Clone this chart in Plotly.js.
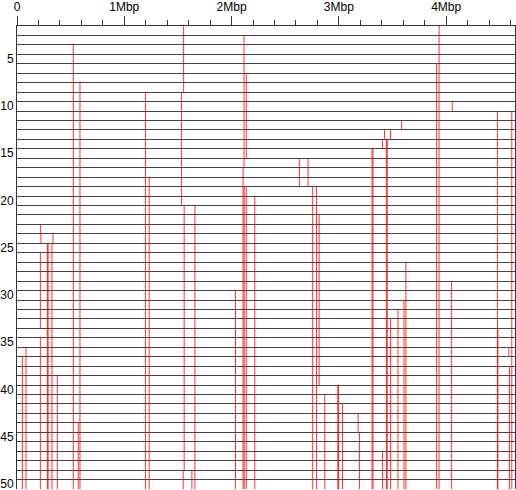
<!DOCTYPE html>
<html>
<head>
<meta charset="utf-8">
<script src="https://cdn.plot.ly/plotly-3.0.1.min.js"></script>
<style>
  html, body { margin: 0; padding: 0; background: #fff; }
  #chart { width: 516px; height: 490px; }
</style>
</head>
<body>
<div id="chart"></div>
<script>
// genome length (Mbp) and number of rows
const genomeLen = 4.6417;
const rowCount = 50;

// red segments: position (Mbp), first row, last row
const segPos = [
  0.050, 0.084, 0.218, 0.223, 0.335, 0.283, 0.290, 0.326, 0.218, 0.218,
  0.376, 0.525, 0.571, 0.587, 1.198, 1.232, 1.553, 1.534, 1.558, 1.549,
  1.630, 1.658, 2.036, 2.116, 2.137, 2.107, 2.118, 2.137, 2.216, 2.632,
  2.713, 2.756, 2.791, 2.816, 2.869, 2.990, 2.997, 3.034, 3.180, 3.192,
  3.309, 3.318, 3.407, 3.426, 3.482, 3.443, 3.451, 3.407, 3.482, 3.551,
  3.585, 3.607, 3.625, 3.911, 3.934, 4.051, 4.057, 4.478, 4.482, 4.584,
  4.590, 4.612
];
const segFrom = [
  36, 35, 22, 23, 23, 24, 24, 24, 25, 34,
  38, 3, 43, 7, 8, 17, 1, 8, 20, 48,
  48, 20, 29, 2, 6, 16, 18, 18, 19, 15,
  15, 18, 18, 21, 40, 39, 39, 41, 42, 44,
  14, 14, 13, 12, 12, 13, 13, 46, 32, 31,
  11, 30, 26, 5, 1, 28, 9, 10, 33, 35,
  37, 10
];
const segTo = [
  50, 50, 23, 24, 24, 50, 50, 50, 33, 50,
  50, 50, 50, 50, 50, 50, 8, 20, 48, 50,
  50, 50, 50, 16, 15, 50, 50, 50, 50, 18,
  18, 50, 50, 39, 50, 50, 50, 50, 44, 50,
  50, 50, 14, 13, 13, 50, 50, 50, 50, 50,
  12, 50, 50, 50, 50, 50, 10, 50, 50, 36,
  50, 50
];

// axis ticks
const xTickVals = [0, 1, 2, 3, 4];
const xTickText = ['0', '1Mbp', '2Mbp', '3Mbp', '4Mbp'];
const yTickVals = [5, 10, 15, 20, 25, 30, 35, 40, 45, 50];

const xs = [];
const ys = [];
segPos.forEach((p, i) => {
  xs.push(p, p, null);
  ys.push(segFrom[i], segTo[i], null);
});

Plotly.newPlot('chart', [{
  type: 'scatter',
  mode: 'lines',
  x: xs,
  y: ys,
  line: { color: 'rgba(255,0,0,0.8)', width: 1 },
  hoverinfo: 'skip',
  showlegend: false
}], {
  width: 516,
  height: 490,
  paper_bgcolor: '#fff',
  plot_bgcolor: '#fff',
  margin: { l: 17.4, r: 1.3, t: 26, b: 0.7 },
  font: { family: 'Liberation Sans, Arial, sans-serif', size: 12, color: '#000' },
  xaxis: {
    side: 'top',
    range: [0, genomeLen],
    tickmode: 'array',
    tickvals: xTickVals,
    ticktext: xTickText,
    ticks: 'outside',
    ticklen: 9,
    tickwidth: 1,
    tickcolor: '#333',
    ticklabeloverflow: 'allow',
    minor: { dtick: 0.2, tick0: 0, ticks: 'outside', ticklen: 5, tickwidth: 1, tickcolor: '#333', showgrid: false },
    showgrid: false,
    zeroline: false,
    showline: true,
    linecolor: '#333',
    linewidth: 1
  },
  yaxis: {
    range: [rowCount, 1],
    tickmode: 'array',
    tickvals: yTickVals,
    ticks: '',
    ticklabelshift: 5,
    ticklabeloverflow: 'allow',
    showgrid: true,
    gridcolor: '#444',
    gridwidth: 1,
    minor: { dtick: 1, tick0: 1, showgrid: true, gridcolor: '#444', gridwidth: 1, ticks: '' },
    zeroline: false,
    showline: true,
    linecolor: '#333',
    linewidth: 1,
    mirror: true
  }
}, { displayModeBar: false, staticPlot: true });
</script>
</body>
</html>
